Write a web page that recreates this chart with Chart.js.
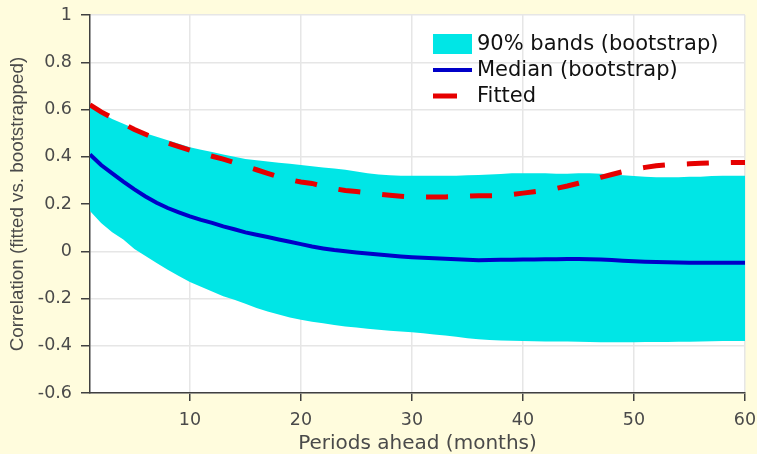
<!DOCTYPE html>
<html>
<head>
<meta charset="utf-8">
<script src="https://cdn.jsdelivr.net/npm/chart.js@4/dist/chart.umd.min.js"></script>
<style>
  html, body { margin: 0; padding: 0; background: #fffcdd; }
  canvas { display: block; }
</style>
</head>
<body>
<canvas id="corrChart" width="757" height="454"></canvas>
<script>
// Data
const periods = Array.from({ length: 60 }, (_, i) => i + 1);

const bandUpper = [
  0.61, 0.585, 0.56, 0.54, 0.52, 0.50, 0.485, 0.47, 0.455, 0.44,
  0.43, 0.42, 0.41, 0.40, 0.39, 0.385, 0.38, 0.375, 0.37, 0.365,
  0.36, 0.355, 0.35, 0.345, 0.338, 0.33, 0.325, 0.322, 0.32, 0.32,
  0.32, 0.32, 0.32, 0.32, 0.322, 0.323, 0.325, 0.327, 0.33, 0.33,
  0.33, 0.33, 0.328, 0.328, 0.33, 0.33, 0.328, 0.325, 0.322, 0.318,
  0.315, 0.313, 0.313, 0.313, 0.315, 0.315, 0.318, 0.32, 0.32, 0.32
];
const bandLower = [
  0.17, 0.12, 0.08, 0.05, 0.01, -0.02, -0.05, -0.078, -0.105, -0.13,
  -0.15, -0.17, -0.19, -0.205, -0.222, -0.24, -0.255, -0.268, -0.28, -0.29,
  -0.298, -0.305, -0.312, -0.318, -0.323, -0.328, -0.332, -0.336, -0.34, -0.343,
  -0.347, -0.352, -0.357, -0.362, -0.368, -0.373, -0.376, -0.378, -0.379, -0.38,
  -0.381, -0.382, -0.382, -0.382, -0.383, -0.384, -0.385, -0.385, -0.385, -0.385,
  -0.384, -0.384, -0.384, -0.383, -0.383, -0.382, -0.381, -0.38, -0.38, -0.38
];
const median = [
  0.41, 0.365, 0.33, 0.295, 0.262, 0.232, 0.205, 0.183, 0.165, 0.148,
  0.133, 0.12, 0.105, 0.093, 0.08, 0.07, 0.06, 0.05, 0.04, 0.03,
  0.02, 0.012, 0.005, 0.0, -0.005, -0.01, -0.014, -0.018, -0.022, -0.025,
  -0.028, -0.03, -0.032, -0.034, -0.036, -0.038, -0.037, -0.036, -0.036, -0.035,
  -0.035, -0.034, -0.034, -0.033, -0.033, -0.034, -0.035, -0.037, -0.04, -0.042,
  -0.044, -0.046, -0.047, -0.048, -0.049, -0.049, -0.049, -0.049, -0.049, -0.049
];
const fitted = [
  0.62, 0.59, 0.565, 0.54, 0.515, 0.495, 0.475, 0.458, 0.443, 0.428,
  0.415, 0.402, 0.39, 0.375, 0.36, 0.345, 0.33, 0.315, 0.303, 0.293,
  0.287, 0.275, 0.265, 0.257, 0.253, 0.248, 0.242, 0.237, 0.233, 0.23,
  0.23, 0.23, 0.23, 0.231, 0.233, 0.235, 0.235, 0.236, 0.24, 0.246,
  0.252, 0.258, 0.266, 0.276, 0.288, 0.30, 0.313, 0.325, 0.337, 0.347,
  0.355, 0.362, 0.366, 0.368, 0.37, 0.372, 0.374, 0.375, 0.376, 0.376
];

const xTicks = [10, 20, 30, 40, 50, 60];
const legendLabels = ['90% bands (bootstrap)', 'Median (bootstrap)', 'Fitted'];

const CYAN = '#00e6e6';
const BLUE = '#0000c8';
const RED = '#e60000';

const toXY = (ys) => ys.map((y, i) => ({ x: periods[i], y: y }));

// white plot area on the cream page
const plotBackground = {
  id: 'plotBackground',
  beforeDraw(chart) {
    const { ctx, chartArea: a } = chart;
    ctx.save();
    ctx.fillStyle = '#fffcdd';
    ctx.fillRect(0, 0, chart.width, chart.height);
    ctx.fillStyle = '#ffffff';
    ctx.fillRect(a.left, a.top, a.right - a.left, a.bottom - a.top);
    ctx.restore();
  }
};

// legend inside the plot, top right, no box
const innerLegend = {
  id: 'innerLegend',
  afterDraw(chart) {
    const { ctx } = chart;
    const x0 = 433, tx = 477;
    const rows = [44, 70, 96];
    ctx.save();
    ctx.font = '21px "DejaVu Sans"';
    ctx.textBaseline = 'middle';

    ctx.fillStyle = CYAN;
    ctx.fillRect(x0, rows[0] - 10, 39, 20);

    ctx.strokeStyle = BLUE;
    ctx.lineWidth = 4;
    ctx.beginPath();
    ctx.moveTo(x0, rows[1]);
    ctx.lineTo(x0 + 39, rows[1]);
    ctx.stroke();

    ctx.strokeStyle = RED;
    ctx.lineWidth = 5;
    ctx.beginPath();
    ctx.moveTo(x0, rows[2]);
    ctx.lineTo(x0 + 24, rows[2]);
    ctx.stroke();

    ctx.fillStyle = '#111111';
    legendLabels.forEach((t, i) => ctx.fillText(t, tx, rows[i] + 1));
    ctx.restore();
  }
};

const ctx = document.getElementById('corrChart').getContext('2d');

const corrChart = new Chart(ctx, {
  type: 'line',
  data: {
    datasets: [
      {
        label: 'upper',
        data: toXY(bandUpper),
        borderWidth: 0,
        pointRadius: 0,
        backgroundColor: CYAN,
        fill: '+1',
        order: 3
      },
      {
        label: 'lower',
        data: toXY(bandLower),
        borderWidth: 0,
        pointRadius: 0,
        backgroundColor: CYAN,
        fill: false,
        order: 4
      },
      {
        label: legendLabels[1],
        data: toXY(median),
        borderColor: BLUE,
        borderWidth: 4,
        pointRadius: 0,
        fill: false,
        order: 1
      },
      {
        label: legendLabels[2],
        data: toXY(fitted),
        borderColor: RED,
        borderWidth: 5,
        borderDash: [22, 22],
        borderCapStyle: 'butt',
        pointRadius: 0,
        fill: false,
        order: 0
      }
    ]
  },
  options: {
    responsive: false,
    animation: false,
    events: [],
    layout: { padding: { left: 0, right: 12, top: 15, bottom: 0 } },
    plugins: {
      legend: { display: false },
      tooltip: { enabled: false }
    },
    scales: {
      x: {
        type: 'linear',
        min: 1,
        max: 60,
        afterBuildTicks: (scale) => { scale.ticks = xTicks.map(v => ({ value: v })); },
        afterFit: (scale) => {
          scale.height = 61;
          scale.paddingLeft = 0;
          scale.paddingRight = 0;
        },
        border: { display: true, color: '#404040', width: 1.5 },
        grid: { color: '#e6e6e6', lineWidth: 1.5, tickColor: '#404040', tickLength: 8, tickWidth: 1.5 },
        ticks: {
          color: '#4a4a4a',
          font: { family: 'DejaVu Sans', size: 17.5 },
          padding: 9,
          maxRotation: 0
        },
        title: {
          display: true,
          text: 'Periods ahead (months)',
          color: '#4a4a4a',
          font: { family: 'DejaVu Sans', size: 20, lineHeight: 1 },
          padding: { top: 0, bottom: 0 }
        }
      },
      y: {
        min: -0.6,
        max: 1,
        afterFit: (scale) => {
          scale.width = 90;
          scale.paddingTop = 0;
          scale.paddingBottom = 0;
        },
        border: { display: true, color: '#404040', width: 1.5 },
        grid: { color: '#e6e6e6', lineWidth: 1.5, tickColor: '#404040', tickLength: 9, tickWidth: 1.5 },
        ticks: {
          stepSize: 0.2,
          color: '#4a4a4a',
          font: { family: 'DejaVu Sans', size: 17.5 },
          padding: 9,
          callback: (v) => String(+v.toFixed(1))
        },
        title: {
          display: true,
          text: 'Correlation (fitted vs. bootstrapped)',
          color: '#4a4a4a',
          font: { family: 'Liberation Sans', size: 18.8, lineHeight: 1 },
          padding: { top: 8, bottom: 0 }
        }
      }
    }
  },
  plugins: [plotBackground, innerLegend]
});
</script>
</body>
</html>
